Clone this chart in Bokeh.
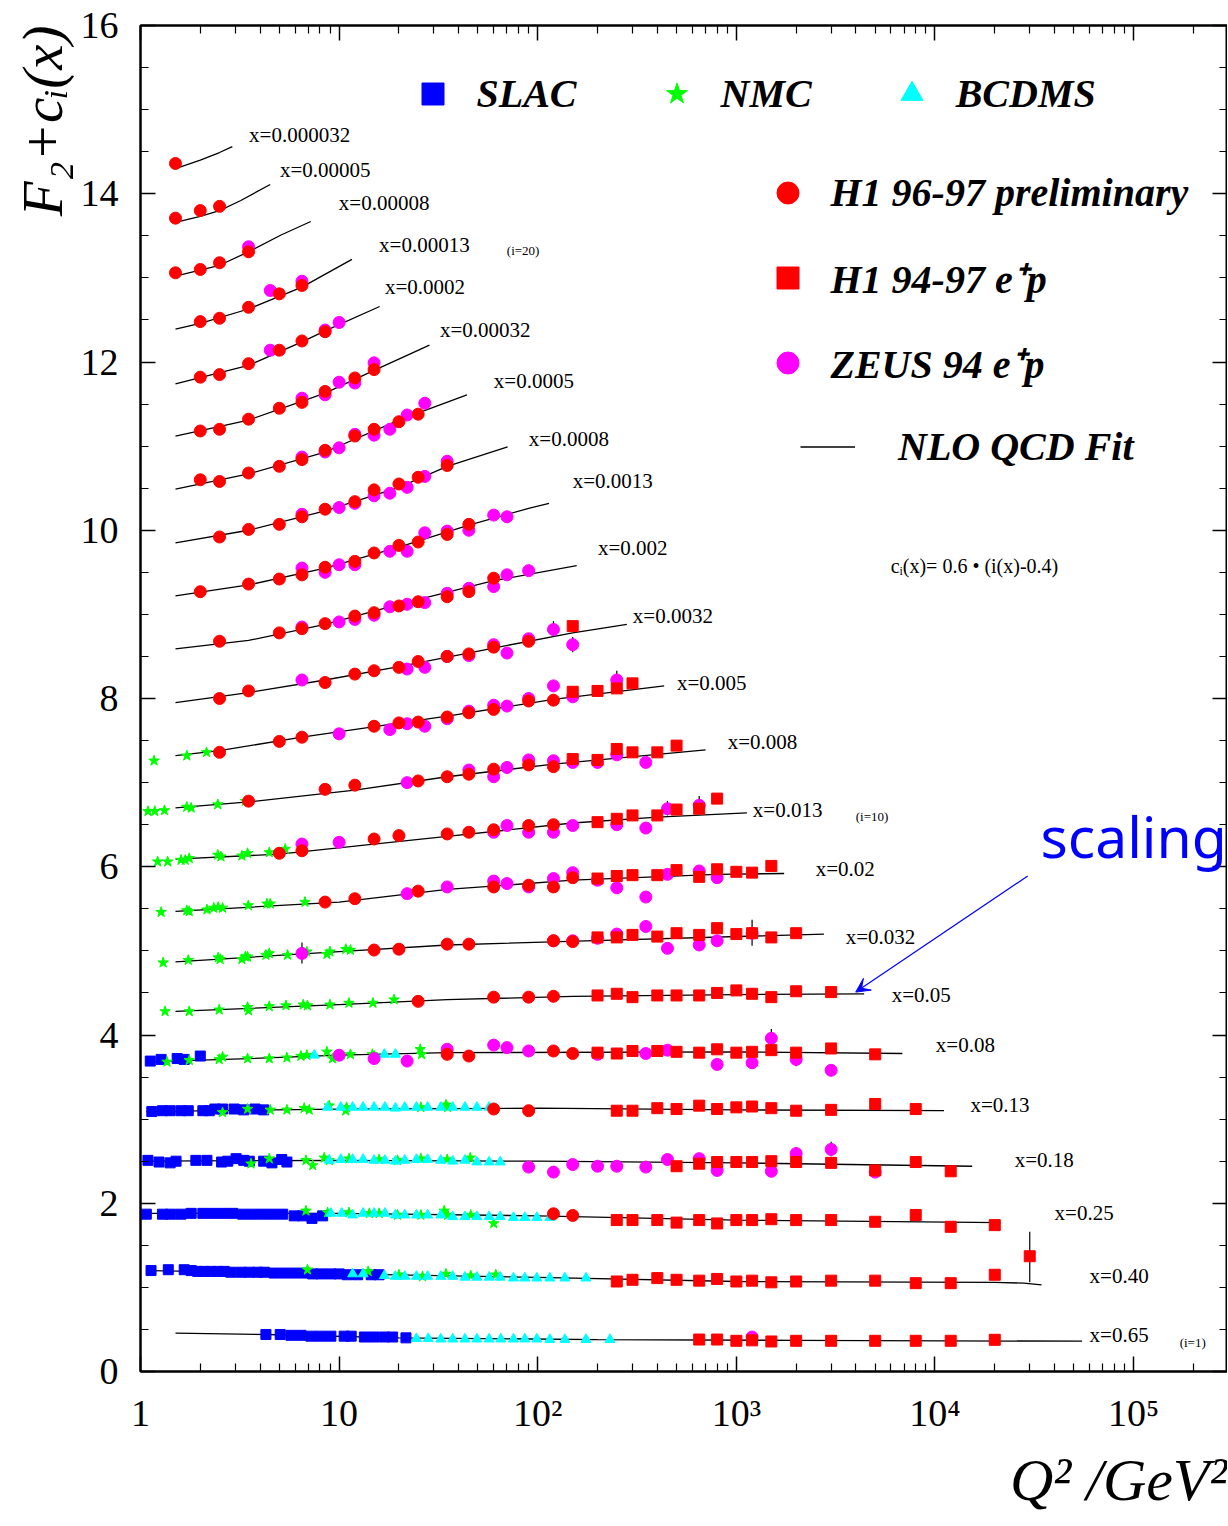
import math
from bokeh.plotting import figure
from bokeh.models import (LinearAxis, LogAxis, FixedTicker, Legend, LegendItem,
                          Label, Arrow, VeeHead, Range1d, Title)
from bokeh.core.properties import value
from bokeh.embed import file_html
from bokeh.resources import INLINE

# ---------------- data (values as plotted: F2 + c_i(x)) ----------------
BINS = ["0.65", "0.40", "0.25", "0.18", "0.13", "0.08", "0.05", "0.032", "0.02", "0.013",
        "0.008", "0.005", "0.0032", "0.002", "0.0013", "0.0008", "0.0005", "0.00032",
        "0.0002", "0.00013", "0.00008", "0.00005", "0.000032"]

NLO_FIT = {
    "0.65": ([1.5, 4.3, 20, 200, 2000, 55000], [0.455, 0.44, 0.40, 0.38, 0.37, 0.36]),
    "0.40": ([1.1, 10, 100, 1000, 20000, 28000, 34400], [1.20, 1.16, 1.12, 1.07, 1.06, 1.05, 1.03]),
    "0.25": ([1.07, 10, 100, 1000, 21400], [1.88, 1.88, 1.85, 1.80, 1.77]),
    "0.18": ([1.07, 10, 100, 1000, 15400], [2.50, 2.51, 2.50, 2.48, 2.44]),
    "0.13": ([1.07, 10, 100, 1000, 11100], [3.09, 3.12, 3.13, 3.11, 3.10]),
    "0.08": ([1.07, 3.5, 10, 35, 1000, 6850], [3.68, 3.72, 3.76, 3.79, 3.80, 3.78]),
    "0.05": ([1.5, 10, 35, 150, 1000, 4400], [4.28, 4.36, 4.42, 4.46, 4.48, 4.49]),
    "0.032": ([1.5, 10, 35, 130, 2760], [4.87, 4.99, 5.07, 5.11, 5.20]),
    "0.02": ([1.5, 10, 35, 150, 800, 1740], [5.47, 5.58, 5.73, 5.84, 5.91, 5.92]),
    "0.013": ([1.5, 5, 35, 150, 400, 1130], [6.09, 6.15, 6.36, 6.52, 6.59, 6.64]),
    "0.008": ([1.5, 3.5, 12, 35, 120, 700], [6.70, 6.77, 6.91, 7.07, 7.22, 7.39]),
    "0.005": ([1.5, 2.5, 6.5, 35, 120, 433], [7.32, 7.38, 7.54, 7.79, 7.99, 8.15]),
    "0.0032": ([1.5, 3.5, 8.5, 20, 60, 150, 281], [7.95, 8.07, 8.22, 8.38, 8.60, 8.78, 8.88]),
    "0.002": ([1.5, 3.5, 8.5, 20, 60, 157], [8.59, 8.69, 8.88, 9.12, 9.40, 9.58]),
    "0.0013": ([1.5, 3.5, 8.5, 20, 45, 90, 114], [9.22, 9.35, 9.55, 9.80, 10.06, 10.26, 10.32]),
    "0.0008": ([1.5, 3.5, 8.5, 20, 35, 70.5], [9.85, 10.00, 10.23, 10.51, 10.76, 10.99]),
    "0.0005": ([1.5, 3.5, 8.5, 20, 44], [10.49, 10.67, 10.93, 11.31, 11.61]),
    "0.00032": ([1.5, 3.5, 8.5, 15, 28.5], [11.12, 11.31, 11.63, 11.90, 12.20]),
    "0.0002": ([1.5, 3.5, 6.5, 8.5, 16], [11.74, 11.96, 12.24, 12.37, 12.66]),
    "0.00013": ([1.5, 2.0, 3.5, 6.5, 11.6], [12.39, 12.46, 12.63, 12.89, 13.22]),
    "0.00008": ([1.5, 2.5, 3.5, 5.1, 7.2], [13.02, 13.15, 13.31, 13.51, 13.67]),
    "0.00005": ([1.5, 2.0, 2.5, 3.2, 4.5], [13.66, 13.73, 13.80, 13.92, 14.11]),
    "0.000032": ([1.5, 2.0, 2.5, 2.9], [14.30, 14.40, 14.49, 14.56]),
}

SLAC = {
    "0.65": ([4.28, 5.05, 5.72, 6.42, 7.21, 8.09, 9.09, 10.6, 11.5, 13.4, 15.0, 16.9, 18.6, 21.7],
             [0.44, 0.44, 0.43, 0.43, 0.42, 0.42, 0.42, 0.42, 0.42, 0.41, 0.41, 0.41, 0.41, 0.40]),
    "0.40": ([1.13, 1.38, 1.66, 1.80, 1.94, 2.09, 2.26, 2.45, 2.64, 2.85, 3.21, 3.53, 3.89, 4.20,
              4.71, 5.29, 5.94, 6.67, 7.36, 8.10, 9.09, 10.0, 11.0, 12.4, 14.5, 15.9],
             [1.20, 1.21, 1.21, 1.20, 1.19, 1.19, 1.19, 1.19, 1.19, 1.18, 1.18, 1.18, 1.18, 1.18,
              1.17, 1.17, 1.17, 1.17, 1.16, 1.16, 1.16, 1.16, 1.15, 1.15, 1.15, 1.15]),
    "0.25": ([1.07, 1.29, 1.42, 1.60, 1.80, 2.06, 2.31, 2.59, 2.91, 3.27, 3.67, 4.12, 4.63, 5.20,
              5.94, 6.55, 7.30, 8.26],
             [1.87, 1.87, 1.87, 1.87, 1.88, 1.88, 1.88, 1.88, 1.88, 1.87, 1.87, 1.87, 1.87, 1.87,
              1.85, 1.85, 1.82, 1.85]),
    "0.18": ([1.09, 1.24, 1.41, 1.51, 1.90, 2.16, 2.56, 2.75, 3.03, 3.31, 3.53, 4.17, 4.59, 5.14, 5.46],
             [2.51, 2.49, 2.48, 2.50, 2.51, 2.51, 2.49, 2.50, 2.53, 2.51, 2.50, 2.50, 2.48, 2.52, 2.49]),
    "0.13": ([1.14, 1.29, 1.41, 1.60, 1.74, 2.06, 2.22, 2.37, 2.59, 2.96, 3.31, 3.77, 4.17],
             [3.09, 3.10, 3.10, 3.10, 3.10, 3.10, 3.10, 3.12, 3.12, 3.12, 3.11, 3.12, 3.11]),
    "0.08": ([1.12, 1.27, 1.53, 1.66, 2.00], [3.69, 3.71, 3.72, 3.71, 3.75]),
}

NMC = {
    "0.40": ([6.93, 14.0, 20.0, 26.3, 34.5, 46.0, 61.5], [1.21, 1.19, 1.15, 1.13, 1.16, 1.14, 1.15]),
    "0.25": ([6.81, 8.75, 11.2, 14.2, 15.9, 19.7, 25.8, 33.8, 35.2, 46.0, 60.0],
             [1.91, 1.89, 1.89, 1.88, 1.88, 1.86, 1.86, 1.91, 1.86, 1.86, 1.76]),
    "0.18": ([3.60, 4.45, 6.81, 7.36, 8.41, 8.92, 11.2, 15.9, 19.7, 25.8, 35.0, 45.7],
             [2.47, 2.53, 2.51, 2.45, 2.54, 2.51, 2.53, 2.52, 2.51, 2.53, 2.52, 2.54]),
    "0.13": ([2.59, 3.46, 4.50, 5.46, 6.67, 7.07, 8.92, 10.9, 10.8, 25.8, 34.5, 35.2],
             [3.08, 3.12, 3.11, 3.11, 3.13, 3.11, 3.16, 3.14, 3.10, 3.14, 3.17, 3.14]),
    "0.08": ([1.36, 1.76, 2.49, 2.59, 3.46, 4.45, 5.46, 6.42, 6.88, 8.68, 9.27, 11.4, 14.7, 15.0, 25.6, 26.0],
             [3.68, 3.70, 3.71, 3.74, 3.72, 3.72, 3.73, 3.75, 3.76, 3.80, 3.72, 3.77, 3.77, 3.75, 3.83, 3.77]),
    "0.05": ([1.33, 1.76, 2.49, 3.46, 3.50, 4.45, 5.40, 6.60, 6.93, 8.99, 11.2, 14.8, 18.9],
             [4.28, 4.28, 4.30, 4.33, 4.29, 4.34, 4.35, 4.36, 4.35, 4.36, 4.38, 4.38, 4.42]),
    "0.032": ([1.30, 1.74, 2.46, 2.52, 3.24, 3.37, 3.46, 4.28, 4.45, 5.50, 6.60, 6.88, 8.68, 8.99, 10.8, 11.4],
              [4.86, 4.89, 4.92, 4.90, 4.90, 4.93, 4.93, 4.95, 4.97, 4.95, 4.98, 4.99, 4.96, 4.99, 5.02, 5.01]),
    "0.02": ([1.27, 1.71, 1.76, 2.16, 2.34, 2.46, 2.59, 3.49, 4.33, 4.50, 6.73],
             [5.46, 5.48, 5.47, 5.49, 5.51, 5.52, 5.51, 5.54, 5.56, 5.56, 5.58]),
    "0.013": ([1.22, 1.37, 1.60, 1.68, 1.76, 2.45, 2.54, 3.24, 3.46, 4.45, 5.35],
              [6.06, 6.06, 6.08, 6.08, 6.10, 6.14, 6.12, 6.13, 6.16, 6.17, 6.21]),
    "0.008": ([1.09, 1.18, 1.32, 1.71, 1.80, 2.45, 3.37], [6.66, 6.66, 6.67, 6.71, 6.70, 6.74, 6.78]),
    "0.005": ([1.17, 1.71, 2.15], [7.26, 7.32, 7.36]),
}

BCDMS = {
    "0.65": ([24.5, 28.1, 32.5, 37.3, 43.0, 49.4, 56.9, 65.2, 75.5, 86.1, 99.0, 115, 137, 175, 231],
             [0.39, 0.39, 0.385, 0.385, 0.385, 0.385, 0.385, 0.385, 0.385, 0.385, 0.385, 0.38, 0.38, 0.38, 0.38]),
    "0.40": ([11.7, 13.2, 16.9, 19.2, 21.4, 24.5, 27.9, 32.5, 37.3, 43.0, 49.4, 56.9, 64.7, 75.5, 86.1,
              99.0, 115, 137, 175],
             [1.16, 1.16, 1.14, 1.13, 1.13, 1.13, 1.13, 1.13, 1.13, 1.12, 1.12, 1.12, 1.12, 1.11, 1.11,
              1.11, 1.11, 1.11, 1.11]),
    "0.25": ([9.09, 10.3, 11.7, 13.2, 15.0, 17.0, 19.2, 21.4, 24.5, 27.9, 32.5, 37.3, 43.0, 49.4, 56.9,
              64.7, 75.5, 86.1, 99.0, 115],
             [1.88, 1.88, 1.86, 1.88, 1.88, 1.88, 1.86, 1.86, 1.86, 1.86, 1.86, 1.84, 1.84, 1.84, 1.84,
              1.84, 1.83, 1.83, 1.83, 1.83]),
    "0.18": ([8.92, 10.2, 11.7, 13.2, 15.0, 17.0, 19.2, 21.4, 24.5, 27.9, 32.5, 37.3, 43.0, 49.4, 56.9, 64.7],
             [2.51, 2.52, 2.52, 2.52, 2.51, 2.51, 2.50, 2.51, 2.52, 2.52, 2.51, 2.50, 2.51, 2.49, 2.49, 2.49]),
    "0.13": ([8.75, 10.2, 11.7, 13.2, 15.0, 17.0, 19.2, 21.4, 24.5, 27.9, 32.5, 37.3, 43.0, 49.4, 56.9],
             [3.14, 3.14, 3.14, 3.14, 3.14, 3.14, 3.13, 3.14, 3.14, 3.14, 3.14, 3.14, 3.14, 3.14, 3.14]),
    "0.08": ([7.50, 10.1, 16.9, 19.2], [3.76, 3.76, 3.77, 3.77]),
}

H1_9697 = {
    "0.25": ([120, 150], [1.875, 1.855]),
    "0.13": ([60, 90], [3.12, 3.10]),
    "0.08": ([35, 45, 120, 150], [3.77, 3.75, 3.81, 3.78]),
    "0.05": ([25, 60, 90, 120], [4.40, 4.45, 4.45, 4.46]),
    "0.032": ([15, 20, 35, 45, 120, 150], [5.01, 5.02, 5.08, 5.08, 5.12, 5.11]),
    "0.02": ([8.5, 12, 25, 60, 90, 120, 150], [5.58, 5.62, 5.71, 5.76, 5.78, 5.76, 5.87]),
    "0.013": ([5, 6.5, 15, 20, 35, 45, 60, 90, 120], [6.16, 6.19, 6.33, 6.37, 6.39, 6.41, 6.44, 6.49, 6.50]),
    "0.008": ([3.5, 8.5, 12, 25, 35, 45, 60, 90, 120], [6.78, 6.92, 6.97, 7.02, 7.07, 7.10, 7.16, 7.21, 7.19]),
    "0.005": ([2.5, 5, 6.5, 15, 20, 25, 35, 45, 60, 90, 120],
              [7.36, 7.49, 7.54, 7.67, 7.71, 7.72, 7.78, 7.83, 7.87, 7.97, 7.98]),
    "0.0032": ([2.5, 3.5, 8.5, 12, 15, 20, 25, 35, 45, 60, 90],
               [8.00, 8.09, 8.19, 8.29, 8.33, 8.37, 8.44, 8.50, 8.53, 8.61, 8.68]),
    "0.002": ([2.5, 5, 6.5, 8.5, 12, 15, 20, 25, 35, 45, 60],
              [8.68, 8.78, 8.83, 8.89, 8.98, 9.02, 9.10, 9.15, 9.21, 9.27, 9.43]),
    "0.0013": ([2, 3.5, 5, 6.5, 8.5, 12, 15, 20, 25, 35, 45],
               [9.27, 9.36, 9.42, 9.47, 9.56, 9.63, 9.73, 9.82, 9.86, 9.95, 10.07]),
    "0.0008": ([2.5, 3.5, 5, 6.5, 8.5, 12, 15, 20, 25, 35],
               [9.92, 10.01, 10.07, 10.16, 10.25, 10.34, 10.48, 10.55, 10.63, 10.77]),
    "0.0005": ([2, 2.5, 3.5, 5, 6.5, 8.5, 12, 15, 20, 25],
               [10.60, 10.58, 10.68, 10.76, 10.84, 10.95, 11.12, 11.20, 11.29, 11.38]),
    "0.00032": ([2, 2.5, 3.5, 5, 6.5, 8.5, 12, 15], [11.18, 11.20, 11.32, 11.45, 11.52, 11.65, 11.81, 11.91]),
    "0.0002": ([2, 2.5, 3.5, 5, 6.5, 8.5], [11.82, 11.85, 11.98, 12.14, 12.25, 12.36]),
    "0.00013": ([2, 2.5, 3.5, 5, 6.5], [12.48, 12.52, 12.65, 12.81, 12.91]),
    "0.00008": ([1.5, 2, 2.5, 3.5], [13.06, 13.10, 13.18, 13.31]),
    "0.00005": ([1.5, 2, 2.5], [13.71, 13.80, 13.85]),
    "0.000032": ([1.5], [14.36]),
}

H1_9497 = {
    "0.65": ([650, 800, 1000, 1200, 1500, 2000, 3000, 5000, 8000, 12000, 20000],
             [0.38, 0.38, 0.365, 0.37, 0.357, 0.365, 0.365, 0.365, 0.365, 0.365, 0.377]),
    "0.40": ([250, 300, 400, 500, 650, 800, 1000, 1200, 1500, 2000, 3000, 5000, 8000, 12000, 20000, 30000],
             [1.07, 1.09, 1.11, 1.09, 1.08, 1.10, 1.07, 1.08, 1.06, 1.07, 1.08, 1.08, 1.05, 1.05, 1.15, 1.37]),
    "0.25": ([250, 300, 400, 500, 650, 800, 1000, 1200, 1500, 2000, 3000, 5000, 8000, 12000, 20000],
             [1.80, 1.80, 1.80, 1.77, 1.80, 1.76, 1.80, 1.80, 1.81, 1.80, 1.80, 1.78, 1.86, 1.72, 1.74]),
    "0.18": ([500, 650, 800, 1000, 1200, 1500, 2000, 3000, 5000, 8000, 12000],
             [2.44, 2.47, 2.49, 2.49, 2.49, 2.50, 2.49, 2.48, 2.39, 2.49, 2.38]),
    "0.13": ([250, 300, 400, 500, 650, 800, 1000, 1200, 1500, 2000, 3000, 5000, 8000],
             [3.10, 3.10, 3.13, 3.12, 3.16, 3.12, 3.14, 3.15, 3.13, 3.10, 3.11, 3.18, 3.12]),
    "0.08": ([200, 250, 300, 400, 500, 650, 800, 1000, 1200, 1500, 2000, 3000, 5000],
             [3.79, 3.78, 3.81, 3.81, 3.80, 3.79, 3.83, 3.79, 3.80, 3.82, 3.79, 3.84, 3.77]),
    "0.05": ([200, 250, 300, 400, 500, 650, 800, 1000, 1200, 1500, 2000, 3000],
             [4.47, 4.49, 4.45, 4.47, 4.47, 4.47, 4.50, 4.53, 4.49, 4.45, 4.52, 4.51]),
    "0.032": ([200, 250, 300, 400, 500, 650, 800, 1000, 1200, 1500, 2000],
              [5.16, 5.16, 5.19, 5.17, 5.21, 5.19, 5.27, 5.20, 5.21, 5.16, 5.21]),
    "0.02": ([200, 250, 300, 400, 500, 650, 800, 1000, 1200, 1500],
             [5.86, 5.89, 5.90, 5.90, 5.96, 5.88, 5.97, 5.94, 5.93, 6.01]),
    "0.013": ([200, 250, 300, 400, 500, 650, 800], [6.53, 6.57, 6.61, 6.61, 6.68, 6.69, 6.81]),
    "0.008": ([150, 200, 250, 300, 400, 500], [7.28, 7.27, 7.40, 7.36, 7.36, 7.44]),
    "0.005": ([150, 200, 250, 300], [8.08, 8.09, 8.12, 8.18]),
    "0.0032": ([150], [8.86]),
}

ZEUS = {
    "0.65": ([1200], [0.41]),
    "0.18": ([90, 120, 150, 200, 250, 350, 450, 650, 800, 1500, 2000, 3000, 5000],
             [2.43, 2.37, 2.46, 2.44, 2.44, 2.43, 2.52, 2.53, 2.39, 2.38, 2.59, 2.64, 2.37]),
    "0.08": ([10, 15, 22, 35, 60, 70, 90, 200, 350, 450, 800, 1200, 1500, 2000, 3000],
             [3.76, 3.72, 3.69, 3.83, 3.88, 3.85, 3.81, 3.77, 3.78, 3.82, 3.65, 3.67, 3.96, 3.71, 3.58]),
    "0.032": ([6.5, 120, 150, 200, 250, 350, 450, 650, 800, 1200],
              [4.97, 5.12, 5.12, 5.15, 5.20, 5.29, 5.03, 5.07, 5.12, 5.21]),
    "0.02": ([22, 35, 60, 70, 90, 120, 150, 200, 250, 350, 450, 650, 800],
             [5.68, 5.76, 5.83, 5.80, 5.76, 5.86, 5.93, 5.84, 5.75, 5.64, 5.91, 5.95, 5.87]),
    "0.013": ([6.5, 10, 60, 70, 90, 120, 150, 250, 350, 450, 650],
              [6.27, 6.29, 6.41, 6.49, 6.41, 6.41, 6.49, 6.50, 6.46, 6.69, 6.73]),
    "0.008": ([22, 45, 60, 70, 90, 120, 150, 200, 250, 350],
              [7.00, 7.15, 7.07, 7.18, 7.27, 7.26, 7.24, 7.24, 7.33, 7.24]),
    "0.005": ([10, 18, 22, 27, 35, 45, 60, 70, 90, 120, 150, 250],
              [7.58, 7.63, 7.70, 7.67, 7.76, 7.85, 7.92, 7.91, 8.00, 8.15, 8.02, 8.22]),
    "0.0032": ([6.5, 22, 27, 35, 45, 60, 70, 90, 120, 150],
               [8.22, 8.35, 8.37, 8.50, 8.51, 8.64, 8.54, 8.71, 8.82, 8.64]),
    "0.002": ([6.5, 10, 12, 15, 18, 22, 27, 35, 45, 60, 70, 90],
              [8.85, 8.91, 8.94, 8.99, 9.09, 9.12, 9.14, 9.25, 9.31, 9.33, 9.47, 9.52]),
    "0.0013": ([6.5, 8.5, 10, 12, 18, 22, 27, 35, 45, 60, 70],
               [9.55, 9.50, 9.59, 9.59, 9.75, 9.75, 9.97, 9.99, 10.00, 10.18, 10.16]),
    "0.0008": ([6.5, 10, 12, 15, 18, 22, 27, 35], [10.19, 10.27, 10.32, 10.41, 10.44, 10.51, 10.64, 10.82]),
    "0.0005": ([6.5, 8.5, 10, 12, 15, 18, 22, 27], [10.87, 10.93, 10.98, 11.14, 11.13, 11.20, 11.37, 11.51]),
    "0.00032": ([6.5, 8.5, 10, 12, 15], [11.57, 11.61, 11.76, 11.75, 11.99]),
    "0.0002": ([4.5, 8.5, 10], [12.14, 12.38, 12.47]),
    "0.00013": ([4.5, 6.5], [12.85, 12.96]),
    "0.00008": ([3.5], [13.37]),
}

# visible error bars (Q2, low, high)
ERR_Q2 = [30000, 20000, 20000, 12000, 1500, 2000, 2000, 3000, 250, 450, 650, 1200, 6.5, 150, 120, 90, 70, 3.5]
ERR_LO = [1.06, 1.10, 1.68, 2.33, 3.86, 3.63, 2.52, 2.56, 8.12, 6.61, 6.63, 5.06, 4.85, 8.55, 8.74, 9.46, 10.10, 13.32]
ERR_HI = [1.66, 1.20, 1.81, 2.44, 4.07, 3.80, 2.67, 2.73, 8.33, 6.78, 6.84, 5.37, 5.10, 8.73, 8.92, 9.58, 10.22, 13.42]

# bin labels
LABEL_TEXT = ["x=0.000032", "x=0.00005", "x=0.00008", "x=0.00013", "x=0.0002", "x=0.00032", "x=0.0005",
              "x=0.0008", "x=0.0013", "x=0.002", "x=0.0032", "x=0.005", "x=0.008", "x=0.013", "x=0.02",
              "x=0.032", "x=0.05", "x=0.08", "x=0.13", "x=0.18", "x=0.25", "x=0.40", "x=0.65"]
LABEL_Q2 = [3.52, 5.04, 9.97, 15.9, 17.0, 32.2, 60.1, 90.2, 150, 201, 301, 502, 905, 1210, 2510,
            3550, 6050, 10100, 15100, 25200, 40000, 60000, 60000]
LABEL_Y = [14.70, 14.28, 13.89, 13.39, 12.89, 12.38, 11.78, 11.08, 10.58, 9.79, 8.98, 8.18, 7.48, 6.68,
           5.97, 5.17, 4.48, 3.88, 3.17, 2.52, 1.88, 1.13, 0.43]
INDEX_TEXT = ["(i=20)", "(i=10)", "(i=1)"]
INDEX_Q2 = [69.9, 3990, 170600]
INDEX_Y = [13.32, 6.60, 0.34]
FORMULA_TEXT = ["cᵢ(x)= 0.6 • (i(x)-0.4)"]
FORMULA_Q2 = [5980]
FORMULA_Y = [9.58]

ARROW_FROM = (29300, 5.89)
ARROW_TO = (3990, 4.51)

X_MAJOR = [1, 10, 100, 1000, 10000, 100000]
X_TICK_LABELS = {1: "1", 10: "10", 100: "10²", 1000: "10³", 10000: "10⁴", 100000: "10⁵"}
Y_MAJOR = [0, 2, 4, 6, 8, 10, 12, 14, 16]

X_MINOR = [k * 10 ** d for d in range(6) for k in range(2, 10)]
Y_MINOR = [k * 0.5 for k in range(33) if k % 4]


def flat(d):
    xs, ys = [], []
    for b in BINS:
        if b in d:
            xs += list(d[b][0])
            ys += list(d[b][1])
    return xs, ys


SERIF = "Liberation Serif"

p = figure(frame_width=1087, frame_height=1346, x_axis_type="log",
           x_range=Range1d(1, 2.97e5), y_range=Range1d(0, 16),
           output_backend="svg", toolbar_location=None,
           min_border_left=140, min_border_right=0, min_border_top=25, min_border_bottom=155,
           background_fill_color="white", border_fill_color="white")
p.grid.visible = False
p.outline_line_color = "black"
p.outline_line_width = 2


def style_axis(ax, labels=True):
    ax.axis_line_width = 2
    ax.axis_line_color = "black"
    ax.major_tick_in = 15
    ax.major_tick_out = 0
    ax.minor_tick_in = 8
    ax.minor_tick_out = 0
    ax.major_tick_line_width = 1.5
    ax.minor_tick_line_width = 1.2
    ax.major_tick_line_color = "black"
    ax.minor_tick_line_color = "black"
    if labels:
        ax.major_label_text_font = SERIF
        ax.major_label_text_font_size = "38px"
        ax.major_label_text_color = "black"
    else:
        ax.major_label_text_font_size = "1px"
        ax.major_label_text_alpha = 0
        ax.major_label_standoff = 0


xa = p.xaxis[0]
xa.ticker = FixedTicker(ticks=X_MAJOR, minor_ticks=X_MINOR)
xa.major_label_overrides = X_TICK_LABELS
style_axis(xa)
xa.major_label_standoff = 20

ya = p.yaxis[0]
ya.ticker = FixedTicker(ticks=Y_MAJOR, minor_ticks=Y_MINOR)
style_axis(ya)
ya.major_label_standoff = 22

top = LogAxis(ticker=FixedTicker(ticks=X_MAJOR, minor_ticks=X_MINOR))
style_axis(top, labels=False)
p.add_layout(top, "above")
right = LinearAxis(ticker=FixedTicker(ticks=Y_MAJOR, minor_ticks=Y_MINOR))
style_axis(right, labels=False)
p.add_layout(right, "right")

# axis titles (as side titles so they sit at the top / right ends of the axes)
p.add_layout(Title(text="F₂+cᵢ(x)", align="right", text_font=SERIF, text_font_style="italic",
                   text_font_size="57px", text_color="black", standoff=8), "left")
p.add_layout(Title(text="Q² /GeV²", align="right", text_font=SERIF, text_font_style="italic",
                   text_font_size="60px", text_color="black", standoff=16), "below")

# NLO QCD fit curves
fit_xs = [list(NLO_FIT[b][0]) for b in BINS]
fit_ys = [list(NLO_FIT[b][1]) for b in BINS]
r_fit = p.multi_line(fit_xs, fit_ys, line_color="black", line_width=1.3)

# error bars
p.segment(x0=ERR_Q2, y0=ERR_LO, x1=ERR_Q2, y1=ERR_HI, line_color="black", line_width=1.2)

sx, sy = flat(SLAC)
r_slac = p.scatter(sx, sy, marker="square", size=10, fill_color="#0000ff", line_color="#0000ff")
nx, ny = flat(NMC)
r_nmc = p.scatter(nx, ny, marker="star", size=11, fill_color="#00ff00", line_color="#00ff00")
bx, by = flat(BCDMS)
r_bcd = p.scatter(bx, by, marker="triangle", size=10, fill_color="#00ffff", line_color="#00ffff")
zx, zy = flat(ZEUS)
r_zeus = p.scatter(zx, zy, marker="circle", size=12, fill_color="#ff00ff", line_color="#ff00ff")
hx2, hy2 = flat(H1_9497)
r_h1b = p.scatter(hx2, hy2, marker="square", size=11, fill_color="#ff0000", line_color="#ff0000")
hx, hy = flat(H1_9697)
r_h1a = p.scatter(hx, hy, marker="circle", size=12, fill_color="#ff0000", line_color="#ff0000")

# bin labels
p.text(x=LABEL_Q2, y=LABEL_Y, text=LABEL_TEXT, text_font=value(SERIF), text_font_size="21px",
       text_align="left", text_baseline="middle", text_color="black")
p.text(x=INDEX_Q2, y=INDEX_Y, text=INDEX_TEXT, text_font=value(SERIF), text_font_size="13px",
       text_align="left", text_baseline="middle", text_color="black")
p.text(x=FORMULA_Q2, y=FORMULA_Y, text=FORMULA_TEXT, text_font=value(SERIF), text_font_size="20px",
       text_align="left", text_baseline="middle", text_color="black")

# scaling annotation
p.add_layout(Arrow(end=VeeHead(size=14, line_color="#0000ff", fill_color="#0000ff", line_width=1),
                   x_start=ARROW_FROM[0], y_start=ARROW_FROM[1], x_end=ARROW_TO[0], y_end=ARROW_TO[1],
                   line_color="#0000ff", line_width=1.2))
p.add_layout(Label(x=900, y=536, x_units="screen", y_units="screen", text="scaling",
                   text_font="Noto Sans", text_font_size="57px", text_color="#0000ff",
                   text_baseline="alphabetic", text_align="left"))


# legends
def make_legend(items, loc, standoff, spacing, orientation="vertical"):
    lg = Legend(items=items, location=loc, orientation=orientation,
                glyph_width=55, glyph_height=55, label_standoff=standoff, spacing=spacing,
                padding=0, margin=0, border_line_color=None, background_fill_alpha=0,
                label_text_font=SERIF, label_text_font_style="bold italic",
                label_text_font_size="40px", label_text_color="black")
    p.add_layout(lg)
    return lg


make_legend([LegendItem(label="SLAC", renderers=[r_slac]),
             LegendItem(label="NMC", renderers=[r_nmc]),
             LegendItem(label="BCDMS", renderers=[r_bcd])],
            (264.5, 1250.5), 17, 72, orientation="horizontal")
make_legend([LegendItem(label="H1 96-97 preliminary", renderers=[r_h1a]),
             LegendItem(label="H1 94-97 e⁺p", renderers=[r_h1b]),
             LegendItem(label="ZEUS 94 e⁺p", renderers=[r_zeus])],
            (619.5, 981.5), 16, 30)
make_legend([LegendItem(label="NLO QCD Fit", renderers=[r_fit])],
            (660, 897.5), 43, 0)

open("out.html", "w").write(file_html(p, INLINE))
